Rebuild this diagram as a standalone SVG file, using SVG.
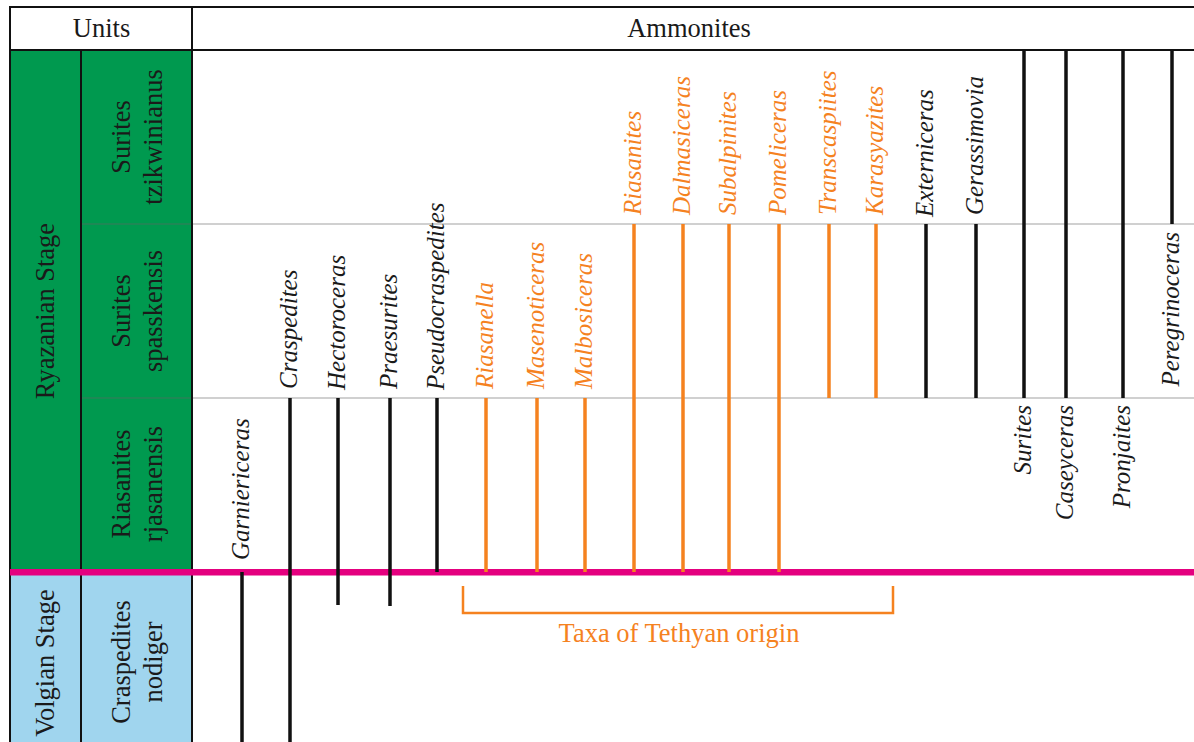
<svg xmlns="http://www.w3.org/2000/svg" width="1194" height="742" viewBox="0 0 1194 742">
<style>
.reg{font-family:"Liberation Serif","Times New Roman",serif;font-size:26.5px;fill:#1a1a1a}
.tax{font-family:"Liberation Serif","Times New Roman",serif;font-size:25px;font-style:italic;fill:#1a1a1a}
.tax.o{fill:#f5821f}
.bl{stroke:#111;stroke-width:3.5}
.or{stroke:#f5821f;stroke-width:3.5}
.grid{stroke:#111;stroke-width:2}
.thin{stroke:#666;stroke-opacity:0.6;stroke-width:1.2}
</style>
<rect width="1194" height="742" fill="#fff"/>
<g id="cells">
  <rect x="10" y="50" width="182" height="522" fill="#00994f"/>
  <rect x="10" y="575" width="182" height="167" fill="#a0d5ee"/>
</g>
<g id="grid">
  <line class="thin" x1="81" y1="224" x2="1194" y2="224"/>
  <line class="thin" x1="81" y1="398" x2="1194" y2="398"/>
  <line class="grid" x1="10" y1="7" x2="1194" y2="7" stroke-width="2.5"/>
  <line class="grid" x1="10" y1="50" x2="1194" y2="50"/>
  <line class="grid" x1="10" y1="6" x2="10" y2="742"/>
  <line class="grid" x1="81" y1="50" x2="81" y2="742"/>
  <line class="grid" x1="192" y1="7" x2="192" y2="742" stroke-width="1.6"/>
</g>
<g id="header">
  <text class="reg" x="101.5" y="37" text-anchor="middle" font-size="27">Units</text>
  <text class="reg" x="689" y="37" text-anchor="middle" font-size="27">Ammonites</text>
</g>
<g id="stage-ryazanian"><text class="reg" text-anchor="middle" transform="translate(53.5,311) rotate(-90)">Ryazanian Stage</text></g>
<g id="stage-volgian"><text class="reg" text-anchor="middle" transform="translate(53.5,663) rotate(-90)">Volgian Stage</text></g>
<g id="zone-tzikwinianus"><text class="reg" text-anchor="middle" transform="rotate(-90)"><tspan x="-137" y="130">Surites</tspan><tspan x="-137" y="161.5">tzikwinianus</tspan></text></g>
<g id="zone-spasskensis"><text class="reg" text-anchor="middle" transform="rotate(-90)"><tspan x="-311" y="130">Surites</tspan><tspan x="-311" y="161.5">spasskensis</tspan></text></g>
<g id="zone-rjasanensis"><text class="reg" text-anchor="middle" transform="rotate(-90)"><tspan x="-484" y="130">Riasanites</tspan><tspan x="-484" y="161.5">rjasanensis</tspan></text></g>
<g id="zone-nodiger"><text class="reg" text-anchor="middle" transform="rotate(-90)"><tspan x="-662" y="130">Craspedites</tspan><tspan x="-662" y="161.5">nodiger</tspan></text></g>
<g id="boundary"><rect x="10" y="569" width="1184" height="6.5" fill="#e4007f"/></g>
<g id="connectors">
  <line class="bl" x1="242" y1="572" x2="242" y2="742"/>
  <line class="bl" x1="290" y1="398" x2="290" y2="742"/>
  <line class="bl" x1="338" y1="398" x2="338" y2="605"/>
  <line class="bl" x1="390" y1="398" x2="390" y2="606"/>
  <line class="bl" x1="437" y1="398" x2="437" y2="572"/>
  <line class="or" x1="486" y1="398" x2="486" y2="572"/>
  <line class="or" x1="537" y1="398" x2="537" y2="572"/>
  <line class="or" x1="585" y1="398" x2="585" y2="572"/>
  <line class="or" x1="634" y1="224" x2="634" y2="572"/>
  <line class="or" x1="683" y1="224" x2="683" y2="572"/>
  <line class="or" x1="729" y1="224" x2="729" y2="572"/>
  <line class="or" x1="779" y1="224" x2="779" y2="572"/>
  <line class="or" x1="829" y1="224" x2="829" y2="398"/>
  <line class="or" x1="876" y1="224" x2="876" y2="398"/>
  <line class="bl" x1="926" y1="224" x2="926" y2="398"/>
  <line class="bl" x1="976" y1="224" x2="976" y2="398"/>
  <line class="bl" x1="1024" y1="50" x2="1024" y2="398"/>
  <line class="bl" x1="1066" y1="50" x2="1066" y2="398"/>
  <line class="bl" x1="1123" y1="50" x2="1123" y2="398"/>
  <line class="bl" x1="1172" y1="50" x2="1172" y2="224"/>
  <path d="M463,586 V613 H893 V586" fill="none" stroke="#f5821f" stroke-width="2.5"/>
</g>
<g id="taxa">
  <text id="garniericeras" class="tax" transform="translate(249,560) rotate(-90)">Garniericeras</text>
  <text id="craspedites" class="tax" transform="translate(297,389) rotate(-90)">Craspedites</text>
  <text id="hectoroceras" class="tax" transform="translate(345,390) rotate(-90)">Hectoroceras</text>
  <text id="praesurites" class="tax" transform="translate(397,389) rotate(-90)">Praesurites</text>
  <text id="pseudocraspedites" class="tax" transform="translate(444,390) rotate(-90)">Pseudocraspedites</text>
  <text id="riasanella" class="tax o" transform="translate(493,389) rotate(-90)">Riasanella</text>
  <text id="masenoticeras" class="tax o" transform="translate(544,389) rotate(-90)">Masenoticeras</text>
  <text id="malbosiceras" class="tax o" transform="translate(592,389) rotate(-90)">Malbosiceras</text>
  <text id="riasanites" class="tax o" transform="translate(641,215) rotate(-90)">Riasanites</text>
  <text id="dalmasiceras" class="tax o" transform="translate(690,215) rotate(-90)">Dalmasiceras</text>
  <text id="subalpinites" class="tax o" transform="translate(736,215) rotate(-90)">Subalpinites</text>
  <text id="pomeliceras" class="tax o" transform="translate(786,215) rotate(-90)">Pomeliceras</text>
  <text id="transcaspiites" class="tax o" transform="translate(836,215) rotate(-90)">Transcaspiites</text>
  <text id="karasyazites" class="tax o" transform="translate(883,215) rotate(-90)">Karasyazites</text>
  <text id="externiceras" class="tax" transform="translate(933,217) rotate(-90)">Externiceras</text>
  <text id="gerassimovia" class="tax" transform="translate(983,215) rotate(-90)">Gerassimovia</text>
  <text id="surites" class="tax" text-anchor="end" transform="translate(1031,405) rotate(-90)">Surites</text>
  <text id="caseyceras" class="tax" text-anchor="end" transform="translate(1073,405) rotate(-90)">Caseyceras</text>
  <text id="pronjaites" class="tax" text-anchor="end" transform="translate(1130,405) rotate(-90)">Pronjaites</text>
  <text id="peregrinoceras" class="tax" text-anchor="end" transform="translate(1179,232) rotate(-90)">Peregrinoceras</text>
</g>
<g id="tethyan-label"><text class="reg" x="679" y="642" text-anchor="middle" style="fill:#f5821f">Taxa of Tethyan origin</text></g>
</svg>
